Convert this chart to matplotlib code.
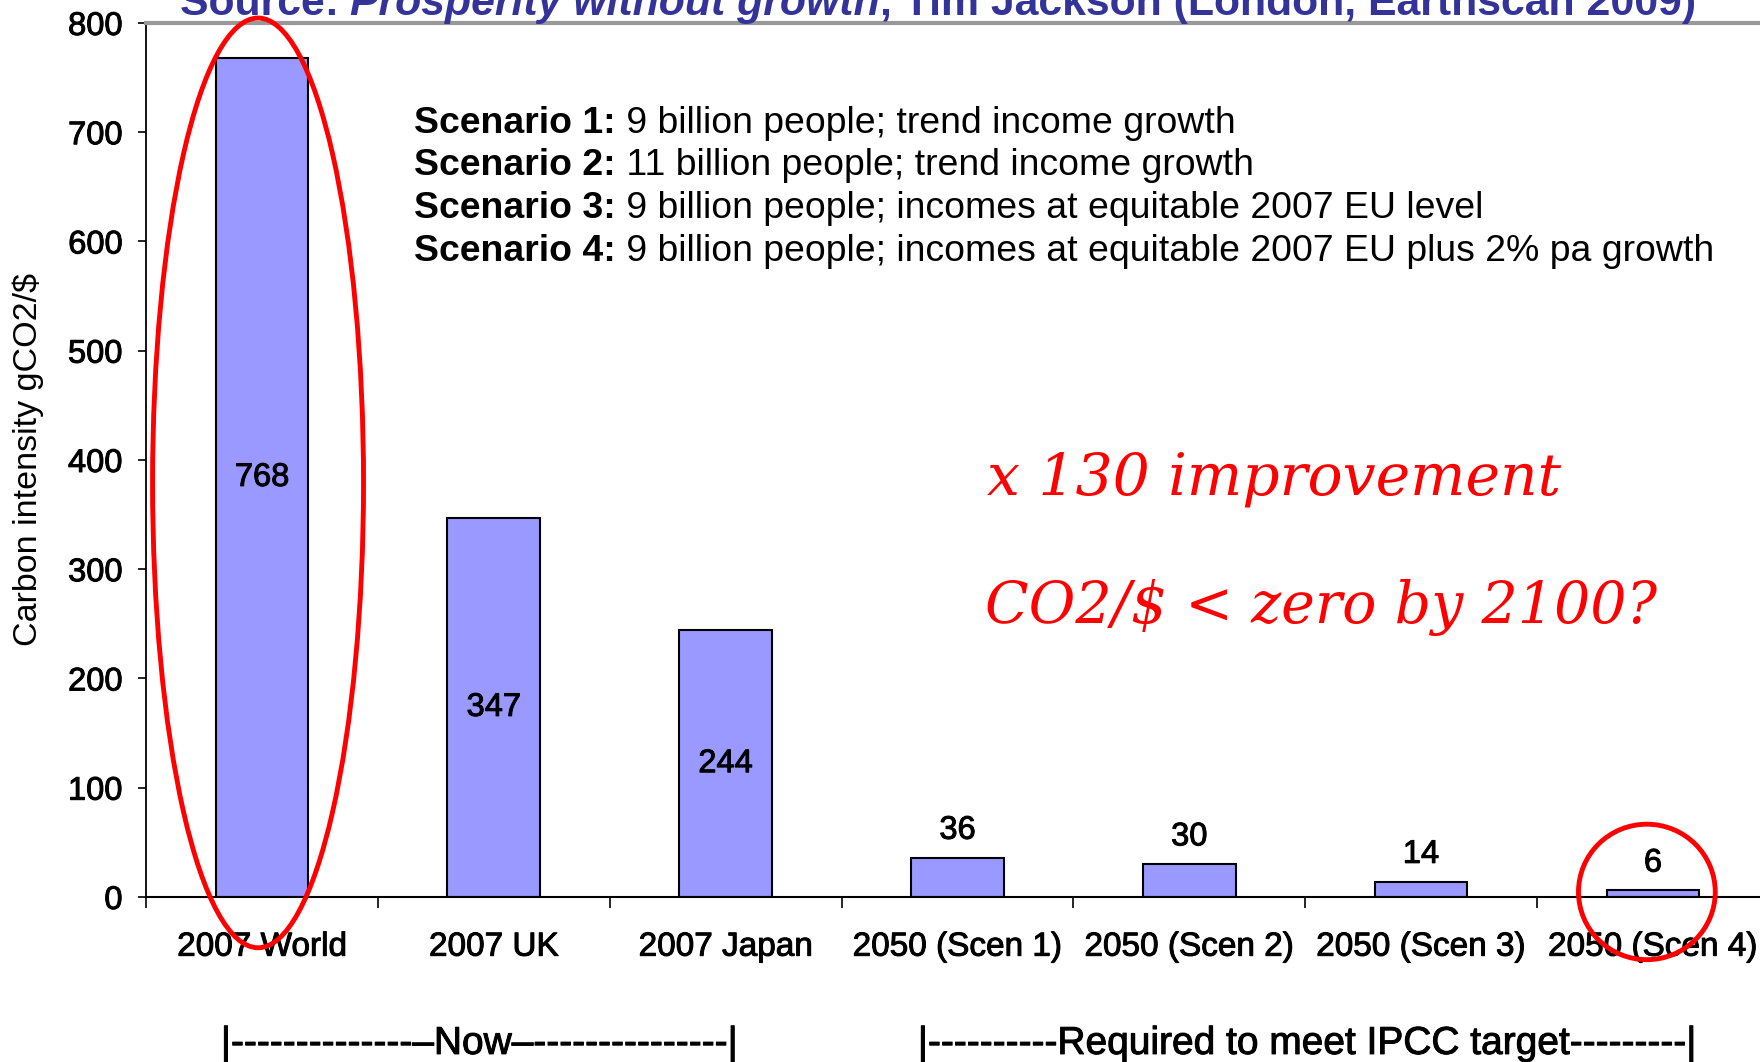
import matplotlib
matplotlib.use("Agg")
import matplotlib.pyplot as plt
import matplotlib.patheffects as pe
from matplotlib.patches import Ellipse

plt.rcParams['font.family'] = ['Liberation Sans', 'DejaVu Sans']

# data
categories = ['2007 World', '2007 UK', '2007 Japan', '2050 (Scen 1)',
              '2050 (Scen 2)', '2050 (Scen 3)', '2050 (Scen 4)']
intensity = [768, 347, 244, 36, 30, 14, 6]
yticks = [0, 100, 200, 300, 400, 500, 600, 700, 800]

scenario_heads = ['Scenario 1:', 'Scenario 2:', 'Scenario 3:', 'Scenario 4:']
scenario_texts = [' 9 billion people; trend income growth',
                  ' 11 billion people; trend income growth',
                  ' 9 billion people; incomes at equitable 2007 EU level',
                  ' 9 billion people; incomes at equitable 2007 EU plus 2% pa growth']

# slightly heavier strokes, like the old slide rendering
heavy = [pe.withStroke(linewidth=0.7, foreground='black')]

fig = plt.figure(figsize=(17.6, 10.62), dpi=100)
ax = fig.add_axes([0.083, 0.1554, 0.922, 0.823])

x = list(range(len(categories)))
ax.bar(x, intensity, width=0.4, color='#9999FF', edgecolor='black', linewidth=1.5, zorder=2)

ax.set_xlim(-0.5, len(categories) - 0.5)
ax.set_ylim(0, 800)
ax.set_yticks(yticks)
ax.set_yticklabels([str(v) for v in yticks])
ax.set_xticks(x)
ax.set_xticklabels(categories)
ax.set_xticks([i - 0.5 for i in x] + [len(x) - 0.5], minor=True)
ax.tick_params(axis='x', which='major', length=0, pad=25, labelsize=24)
ax.tick_params(axis='x', which='minor', length=8, width=1.2, direction='out')
ax.tick_params(axis='y', length=6, width=1.2, pad=11, labelsize=23.5)
for lab in ax.get_xticklabels() + ax.get_yticklabels():
    lab.set_path_effects(heavy)
ax.set_ylabel('Carbon intensity gCO2/$', fontsize=24.5, labelpad=17)

ax.spines['right'].set_visible(False)
ax.spines['top'].set_color('#999999')
ax.spines['top'].set_linewidth(3)
ax.spines['left'].set_linewidth(1.3)
ax.spines['bottom'].set_linewidth(1.5)

# value labels
for xi, v in zip(x, intensity):
    if v > 100:
        ax.text(xi, v / 2, str(v), ha='center', va='center', fontsize=23.5, path_effects=heavy)
    else:
        ax.text(xi, v + 25, str(v), ha='center', va='center', fontsize=23.5, path_effects=heavy)

# scenario descriptions
y0 = 0.875
for i, (h, t) in enumerate(zip(scenario_heads, scenario_texts)):
    head = fig.text(0.2355, y0 - i * 0.0402, h, fontsize=26.9, fontweight='bold', va='baseline')
    ax.annotate(t, xy=(1, 0), xycoords=head, fontsize=26.9, va='bottom', ha='left')

# red handwritten notes
fig.text(0.561, 0.549, 'x 130 improvement', color='red', fontsize=42,
         family='DejaVu Serif', style='italic', va='center')
fig.text(0.5595, 0.428, 'CO2/$ < zero by 2100?', color='red', fontsize=41,
         family='DejaVu Serif', style='italic', va='center')

# red ellipses around first and last bar
ax.add_patch(Ellipse((x[0] - 0.017, 379), 0.91, 851, fill=False, edgecolor='red',
                     linewidth=3.5, clip_on=False, zorder=5))
ax.add_patch(Ellipse((x[-1] - 0.026, 4.6), 0.59, 124, fill=False, edgecolor='red',
                     linewidth=3.5, clip_on=False, zorder=5))

# source title (cut off at the top)
blue = '#333399'
t1 = fig.text(0.102, 0.986, 'Source: ', color=blue, fontsize=30.8, fontweight='bold', va='baseline')
t2 = ax.annotate('Prosperity without growth', xy=(1, 0), xycoords=t1, color=blue, fontsize=30.8,
                 fontweight='bold', style='italic', va='bottom')
ax.annotate(', Tim Jackson (London, Earthscan 2009)', xy=(1, 0), xycoords=t2, color=blue,
            fontsize=30.8, fontweight='bold', va='bottom')

# period brackets at the bottom
fig.text(0.1255, 0.017, '|' + '-' * 14 + '\u2013Now\u2013' + '-' * 15 + '|', fontsize=28,
         va='center', path_effects=heavy)
fig.text(0.5215, 0.017, '|' + '-' * 10 + 'Required to meet IPCC target' + '-' * 9 + '|',
         fontsize=28, va='center', path_effects=heavy)

fig.savefig('out.png', dpi=100)
